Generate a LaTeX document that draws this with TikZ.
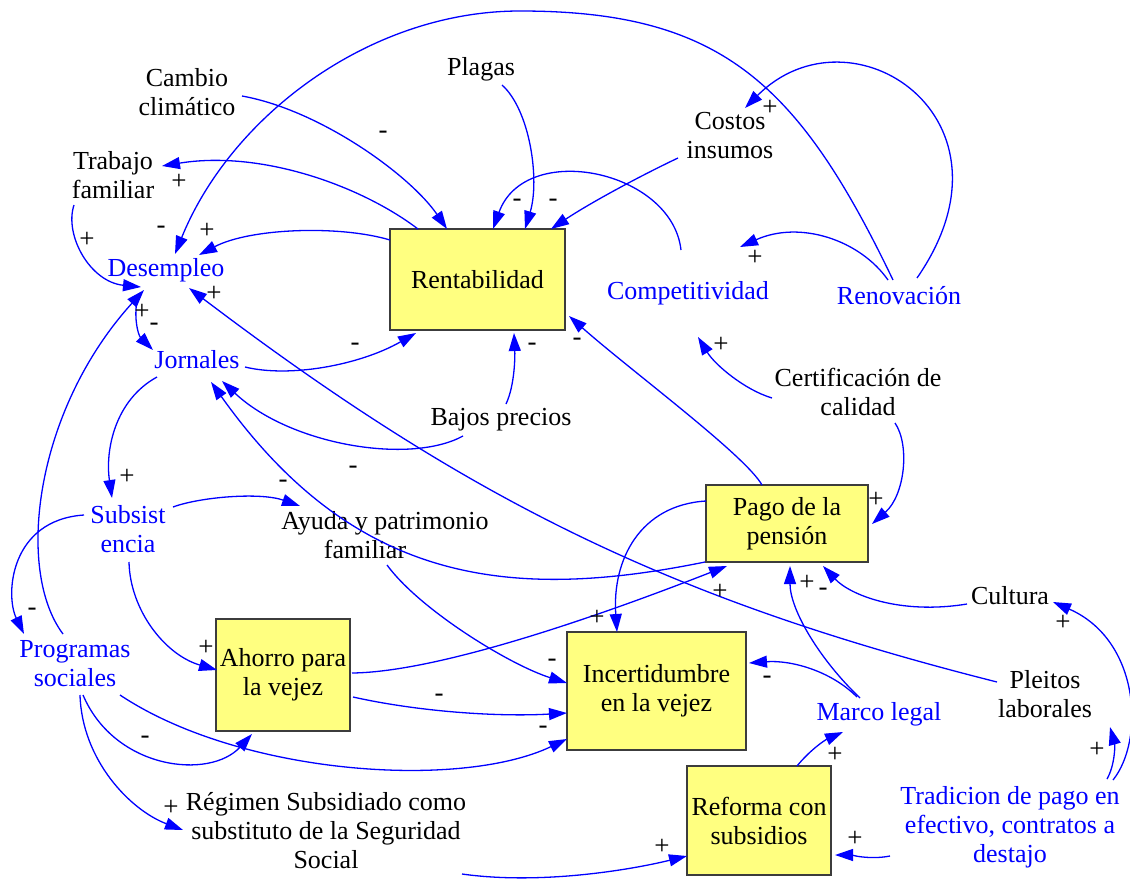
\documentclass[tikz,border=0pt]{standalone}
\usepackage{fontspec}
\setmainfont{Liberation Serif}
\usetikzlibrary{arrows.meta}
\definecolor{vblue}{RGB}{0,0,255}
\definecolor{boxfill}{RGB}{255,255,128}
\definecolor{boxline}{RGB}{60,60,60}
\newcommand\bigfs{\fontsize{26}{29}\selectfont}
\newcommand\polfs{\fontsize{27}{27}\selectfont}
\tikzset{
  txt/.style={font=\bigfs, align=center, inner sep=0pt, text=black},
  var/.style={txt, text=vblue},
  stock/.style={draw=boxline, fill=boxfill, line width=1.2pt, inner sep=0pt, font=\bigfs, align=center},
  arr/.style={draw=vblue, line width=1.3pt, -{Triangle[length=18pt,width=12pt]}},
  pol/.style={font=\polfs, inner sep=0pt, text=black}
}
\begin{document}
\begin{tikzpicture}[x=1pt,y=-1pt]
\useasboundingbox (0,0) rectangle (1130,881);
% nodes
\node[txt] (cam) at (187,92) {Cambio\\climático};
\node[txt] (pla) at (481,69) {Plagas};
\node[txt] (cos) at (730,136) {Costos\\insumos};
\node[txt] (tra) at (113,175) {Trabajo\\familiar};
\node[var] (des) at (166,270) {Desempleo};
\node[stock, minimum width=175pt, minimum height=101pt] (ren) at (477.5,279.5) {Rentabilidad};
\node[var] (com) at (688,293) {Competitividad};
\node[var] (rnv) at (899,296) {Renovación};
\node[var] (jor) at (197,360) {Jornales};
\node[txt] (baj) at (501,420) {Bajos precios};
\node[txt] (cer) at (858,392) {Certificación de\\calidad};
\node[var] (sub) at (128,529) {Subsist\\encia};
\node[txt] (ayu) at (385,535) {Ayuda y patrimonio\\familiar\hspace*{40pt}};
\node[stock, minimum width=162pt, minimum height=77pt] (pag) at (787,523.5) {Pago de la\\pensión};
\node[var] (pro) at (75,664) {Programas\\sociales};
\node[stock, minimum width=134pt, minimum height=112pt] (aho) at (283,675) {Ahorro para\\la vejez};
\node[stock, minimum width=179pt, minimum height=118pt] (inc) at (656.5,691) {Incertidumbre\\en la vejez};
\node[txt] (cul) at (1010,596) {Cultura};
\node[var] (mar) at (879,714) {Marco legal};
\node[txt] (ple) at (1045,694) {Pleitos\\laborales};
\node[txt] (reg) at (326,831) {Régimen Subsidiado como\\substituto de la Seguridad\\Social};
\node[stock, minimum width=144pt, minimum height=109pt] (rfm) at (759,820.5) {Reforma con\\subsidios};
\node[var] (tdc) at (1010,827) {Tradicion de pago en\\efectivo, contratos a\\destajo};
% connectors
\draw[arr] ([shift={(55,4)}]cam.center) .. controls (320,110) and (410,175) .. ([shift={(-30.5,-50.5)}]ren.center);
\draw[arr] ([shift={(21,16)}]pla.center) .. controls (530,110) and (540,180) .. ([shift={(47.5,-50.5)}]ren.center);
\draw[arr] ([shift={(-52,22)}]cos.center) .. controls (640,176) and (590,203) .. ([shift={(73.5,-50.5)}]ren.center);
\draw[arr] ([shift={(-7,-43)}]com.center) .. controls (672,170) and (525,140) .. ([shift={(15.5,-50.5)}]ren.center);
\draw[arr] ([shift={(-6,-16)}]rnv.center) .. controls (798,82) and (720,11) .. (520,11) .. controls (370,11) and (231,116) .. ([shift={(9,-16)}]des.center);
\draw[arr] ([shift={(18,-18)}]rnv.center) .. controls (1028,118) and (851,2) .. ([shift={(15,-28)}]cos.center);
\draw[arr] ([shift={(-11,-16)}]rnv.center) .. controls (860,240) and (800,220) .. ([shift={(52,-46)}]com.center);
\draw[arr] ([shift={(-59.5,-50.5)}]ren.center) .. controls (360,185) and (260,150) .. ([shift={(49,-9)}]tra.center);
\draw[arr] ([shift={(-87.5,-39.5)}]ren.center) .. controls (340,225) and (250,228) .. ([shift={(33,-15)}]des.center);
\draw[arr] ([shift={(-39,30)}]tra.center) .. controls (64,235) and (90,282) .. ([shift={(-25,17)}]des.center);
\draw[arr] ([shift={(-28,27)}]des.center) .. controls (133,315) and (138,335) .. ([shift={(-44,-10)}]jor.center);
\draw[arr] ([shift={(48,7)}]jor.center) .. controls (290,378) and (360,365) .. ([shift={(-61.5,53.5)}]ren.center);
\draw[arr] ([shift={(5,-16)}]baj.center) .. controls (515,385) and (515,355) .. ([shift={(36.5,53.5)}]ren.center);
\draw[arr] ([shift={(-38,16)}]baj.center) .. controls (410,465) and (290,445) .. ([shift={(25,21)}]jor.center);
\draw[arr] ([shift={(-82,38.5)}]pag.center) .. controls (509,602) and (354,583) .. ([shift={(14,22)}]jor.center);
\draw[arr] ([shift={(-48,-12)}]ple.center) .. controls (672,600) and (470,501) .. ([shift={(23,18)}]des.center);
\draw[arr] ([shift={(-25,-38.5)}]pag.center) .. controls (745,455) and (630,370) .. ([shift={(91.5,36.5)}]ren.center);
\draw[arr] ([shift={(-86,6)}]cer.center) .. controls (745,390) and (715,365) .. ([shift={(10,44)}]com.center);
\draw[arr] ([shift={(37,31)}]cer.center) .. controls (910,445) and (905,495) .. ([shift={(85,0.5)}]pag.center);
\draw[arr] ([shift={(-40,17)}]jor.center) .. controls (115,400) and (105,450) .. ([shift={(-16,-31)}]sub.center);
\draw[arr] ([shift={(45,-22)}]sub.center) .. controls (200,497) and (260,492) .. ([shift={(-85,-29)}]ayu.center);
\draw[arr] ([shift={(-44,-14)}]sub.center) .. controls (10,520) and (5,595) .. ([shift={(-51,-30)}]pro.center);
\draw[arr] ([shift={(-12,-30)}]pro.center) .. controls (15,570) and (35,410) .. ([shift={(-22,20)}]des.center);
\draw[arr] ([shift={(1,33)}]sub.center) .. controls (130,610) and (165,655) .. ([shift={(-66,-5)}]aho.center);
\draw[arr] ([shift={(2,30)}]ayu.center) .. controls (420,610) and (510,665) .. ([shift={(-89.5,-8)}]inc.center);
\draw[arr] ([shift={(69,-2)}]aho.center) .. controls (450,672) and (640,600) .. ([shift={(-60,42.5)}]pag.center);
\draw[arr] ([shift={(70,22)}]aho.center) .. controls (420,712) and (500,717) .. ([shift={(-89.5,22)}]inc.center);
\draw[arr] ([shift={(45,31)}]pro.center) .. controls (240,775) and (460,790) .. ([shift={(-89.5,48)}]inc.center);
\draw[arr] ([shift={(8,31)}]pro.center) .. controls (115,770) and (210,780) .. ([shift={(-31,59)}]aho.center);
\draw[arr] ([shift={(5,31)}]pro.center) .. controls (82,760) and (130,810) .. ([shift={(-143,-1)}]reg.center);
\draw[arr] ([shift={(136,43)}]reg.center) .. controls (540,885) and (630,870) .. ([shift={(-72,35.5)}]rfm.center);
\draw[arr] ([shift={(-81,-22.5)}]pag.center) .. controls (640,505) and (612,560) .. ([shift={(-39.5,-59)}]inc.center);
\draw[arr] ([shift={(-19,-16)}]mar.center) .. controls (820,660) and (790,610) .. ([shift={(3,42.5)}]pag.center);
\draw[arr] ([shift={(-43,8)}]cul.center) .. controls (900,615) and (850,595) .. ([shift={(36,42.5)}]pag.center);
\draw[arr] ([shift={(-22,-17)}]mar.center) .. controls (830,670) and (790,660) .. ([shift={(92.5,-28)}]inc.center);
\draw[arr] ([shift={(38,-54.5)}]rfm.center) .. controls (810,750) and (825,740) .. ([shift={(-36,18)}]mar.center);
\draw[arr] ([shift={(-120,29)}]tdc.center) .. controls (870,860) and (850,855) .. ([shift={(76,34.5)}]rfm.center);
\draw[arr] ([shift={(97,-48)}]tdc.center) .. controls (1115,765) and (1115,745) .. ([shift={(65,33)}]ple.center);
\draw[arr] ([shift={(103,-47)}]tdc.center) .. controls (1145,740) and (1140,640) .. ([shift={(43,6)}]cul.center);
% polarity labels
\node[pol] (p1) at (383,135) {-};
\node[pol] (p2) at (517,203) {-};
\node[pol] (p3) at (553,203) {-};
\node[pol] (p4) at (161,230) {-};
\node[pol] (p5) at (770,108) {+};
\node[pol] (p6) at (755,258) {+};
\node[pol] (p7) at (179,182) {+};
\node[pol] (p8) at (207,231) {+};
\node[pol] (p9) at (87,240) {+};
\node[pol] (p10) at (142,312) {+};
\node[pol] (p11) at (154,327) {-};
\node[pol] (p12) at (214,294) {+};
\node[pol] (p13) at (355,347) {-};
\node[pol] (p14) at (532,347) {-};
\node[pol] (p15) at (577,342) {-};
\node[pol] (p16) at (721,345) {+};
\node[pol] (p17) at (353,470) {-};
\node[pol] (p18) at (283,484) {-};
\node[pol] (p19) at (127,477) {+};
\node[pol] (p20) at (876,500) {+};
\node[pol] (p21) at (32,612) {-};
\node[pol] (p22) at (206,648) {+};
\node[pol] (p23) at (552,663) {-};
\node[pol] (p24) at (720,592) {+};
\node[pol] (p25) at (439,698) {-};
\node[pol] (p26) at (543,730) {-};
\node[pol] (p27) at (145,740) {-};
\node[pol] (p28) at (171,808) {+};
\node[pol] (p29) at (662,847) {+};
\node[pol] (p30) at (597,618) {+};
\node[pol] (p31) at (807,583) {+};
\node[pol] (p32) at (823,592) {-};
\node[pol] (p33) at (767,680) {-};
\node[pol] (p34) at (835,755) {+};
\node[pol] (p35) at (855,839) {+};
\node[pol] (p36) at (1097,750) {+};
\node[pol] (p37) at (1063,623) {+};
\end{tikzpicture}
\end{document}
